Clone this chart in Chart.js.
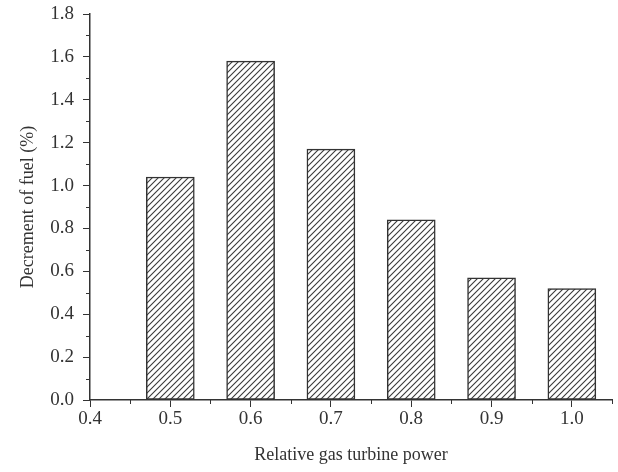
<!DOCTYPE html>
<html>
<head>
<meta charset="utf-8">
<title>Decrement of fuel</title>
<script src="https://cdn.jsdelivr.net/npm/chart.js@4.4.1/dist/chart.umd.min.js"></script>
<style>
    html, body { margin: 0; padding: 0; background: #fff; }
    #wrap { width: 618px; height: 472px; }
</style>
</head>
<body>
<div id="wrap"><canvas id="fuelChart" width="618" height="472"></canvas></div>
<script>
// Relative gas turbine power vs. fuel decrement
const powerLevels = [0.5, 0.6, 0.7, 0.8, 0.9, 1.0];
const fuelDecrement = [1.04, 1.58, 1.17, 0.84, 0.57, 0.52];

const xTicks = [0.4, 0.5, 0.6, 0.7, 0.8, 0.9, 1.0];
const xMinor = [0.45, 0.55, 0.65, 0.75, 0.85, 0.95, 1.05];
const yTicks = [0.0, 0.2, 0.4, 0.6, 0.8, 1.0, 1.2, 1.4, 1.6, 1.8];
const yMinor = [0.1, 0.3, 0.5, 0.7, 0.9, 1.1, 1.3, 1.5, 1.7];

const INK = '#333333';
const FONT = "'Liberation Serif', 'DejaVu Serif', serif";

// diagonal hatch fill for the bars
function makeHatch() {
    const p = 6;
    const c = document.createElement('canvas');
    c.width = p;
    c.height = p;
    const g = c.getContext('2d');
    g.fillStyle = '#ffffff';
    g.fillRect(0, 0, p, p);
    g.strokeStyle = '#3a3a3a';
    g.lineWidth = 1.1;
    g.beginPath();
    g.moveTo(0, p); g.lineTo(p, 0);
    g.moveTo(-1, 1); g.lineTo(1, -1);
    g.moveTo(p - 1, p + 1); g.lineTo(p + 1, p - 1);
    g.stroke();
    return g.createPattern(c, 'repeat');
}

// small outward ticks between the labelled ones
const minorTicks = {
    id: 'minorTicks',
    afterDraw(chart) {
        const { ctx, chartArea, scales } = chart;
        ctx.save();
        ctx.strokeStyle = INK;
        ctx.lineWidth = 1;
        ctx.beginPath();
        xMinor.forEach(v => {
            const px = Math.round(scales.x.getPixelForValue(v)) + 0.5;
            ctx.moveTo(px, chartArea.bottom);
            ctx.lineTo(px, chartArea.bottom + 4);
        });
        yMinor.forEach(v => {
            const py = Math.round(scales.y.getPixelForValue(v)) + 0.5;
            ctx.moveTo(chartArea.left, py);
            ctx.lineTo(chartArea.left - 4, py);
        });
        ctx.stroke();
        ctx.restore();
    }
};

const ctx = document.getElementById('fuelChart').getContext('2d');

new Chart(ctx, {
    type: 'bar',
    data: {
        datasets: [{
            data: powerLevels.map((x, i) => ({ x: x, y: fuelDecrement[i] })),
            backgroundColor: makeHatch(),
            borderColor: INK,
            borderWidth: 1.5,
            borderSkipped: false,
            barThickness: 48
        }]
    },
    options: {
        responsive: false,
        animation: false,
        devicePixelRatio: 1,
        layout: { padding: { top: 14, right: 6, left: 0, bottom: 0 } },
        plugins: {
            legend: { display: false },
            tooltip: { enabled: false }
        },
        scales: {
            x: {
                type: 'linear',
                min: 0.4,
                max: 1.05,
                offset: false,
                grid: { offset: false, drawOnChartArea: false, tickLength: 7, color: INK },
                border: { color: INK, width: 1.5 },
                afterBuildTicks: scale => { scale.ticks = xTicks.map(v => ({ value: v })); },
                afterFit: scale => { scale.height = 72; },
                ticks: {
                    color: INK,
                    padding: 1,
                    maxRotation: 0,
                    font: { family: FONT, size: 19 },
                    callback: v => v.toFixed(1)
                },
                title: {
                    display: true,
                    text: 'Relative gas turbine power',
                    color: INK,
                    padding: { top: 6, bottom: 6 },
                    font: { family: FONT, size: 18 }
                }
            },
            y: {
                min: 0,
                max: 1.8,
                grid: { drawOnChartArea: false, tickLength: 7, color: INK },
                border: { color: INK, width: 1.5 },
                afterBuildTicks: scale => { scale.ticks = yTicks.map(v => ({ value: v })); },
                afterFit: scale => {
                    scale.width = 90;
                    // let the top label overhang instead of pushing the plot down
                    scale.paddingTop = 0;
                },
                ticks: {
                    color: INK,
                    padding: 9,
                    font: { family: FONT, size: 19 },
                    callback: v => v.toFixed(1)
                },
                title: {
                    display: true,
                    text: 'Decrement of fuel (%)',
                    color: INK,
                    padding: { top: 17, bottom: 0 },
                    font: { family: FONT, size: 18 }
                }
            }
        }
    },
    plugins: [minorTicks]
});
</script>
</body>
</html>
